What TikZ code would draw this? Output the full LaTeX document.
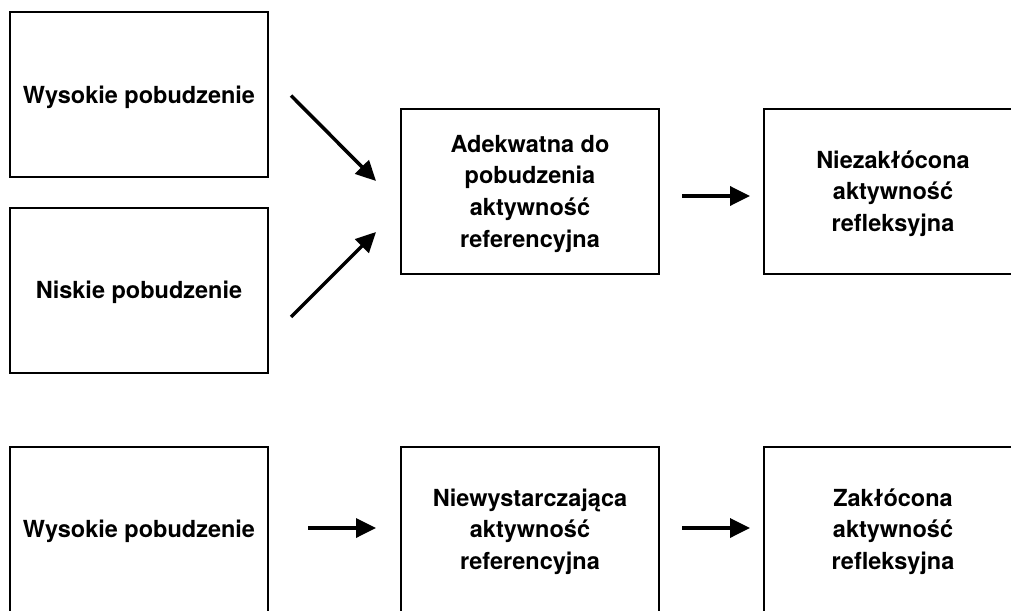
\documentclass[tikz,border=0pt]{standalone}
\usepackage{fontspec}
\setmainfont{TeX Gyre Heros}
\usetikzlibrary{arrows.meta,calc}

\begin{document}
\begin{tikzpicture}[x=1pt,y=-1pt,
  box/.style={draw=black, line width=2pt, minimum width=258pt, minimum height=165pt,
    inner sep=0pt, align=center, font=\bfseries\fontsize{23.5}{31.7}\selectfont,
    text depth=-3pt},
  flow/.style={line width=3.5pt, -{Triangle[length=20pt,width=19pt]}}]
\useasboundingbox (0,0) rectangle (1011,610);
\begin{scope}
\clip (0,0) rectangle (1011,610);
% upper row
\node[box] (hi1) at (139,94.5) {Wysokie pobudzenie};
\node[box] (lo) at (139,290) {Niskie pobudzenie};
\node[box] (adeq) at (530,191) {Adekwatna do\\pobudzenia\\aktywność\\referencyjna};
\node[box] (undist) at (893,191) {Niezakłócona\\aktywność\\refleksyjna};
% lower row
\node[box] (hi2) at (139,529) {Wysokie pobudzenie};
\node[box] (insuf) at (530,529) {Niewystarczająca\\aktywność\\referencyjna};
\node[box] (dist) at (893,529) {Zakłócona\\aktywność\\refleksyjna};
\end{scope}
% arrow end points, kept clear of the boxes
\coordinate (s1) at ($(hi1.east)+(22,1)$);
\coordinate (e1) at ($(adeq.west)+(-24,-10)$);
\coordinate (s2) at ($(lo.east)+(22,27)$);
\coordinate (e2) at ($(adeq.west)+(-24,41)$);
\coordinate (s3) at ($(adeq.east)+(22,5)$);
\coordinate (e3) at ($(undist.west)+(-13,5)$);
\coordinate (s4) at ($(hi2.east)+(39,-1)$);
\coordinate (e4) at ($(insuf.west)+(-24,-1)$);
\coordinate (s5) at ($(insuf.east)+(22,-1)$);
\coordinate (e5) at ($(dist.west)+(-13,-1)$);
\draw[flow] (s1) -- (e1);
\draw[flow] (s2) -- (e2);
\draw[flow] (s3) -- (e3);
\draw[flow] (s4) -- (e4);
\draw[flow] (s5) -- (e5);
\end{tikzpicture}
\end{document}
